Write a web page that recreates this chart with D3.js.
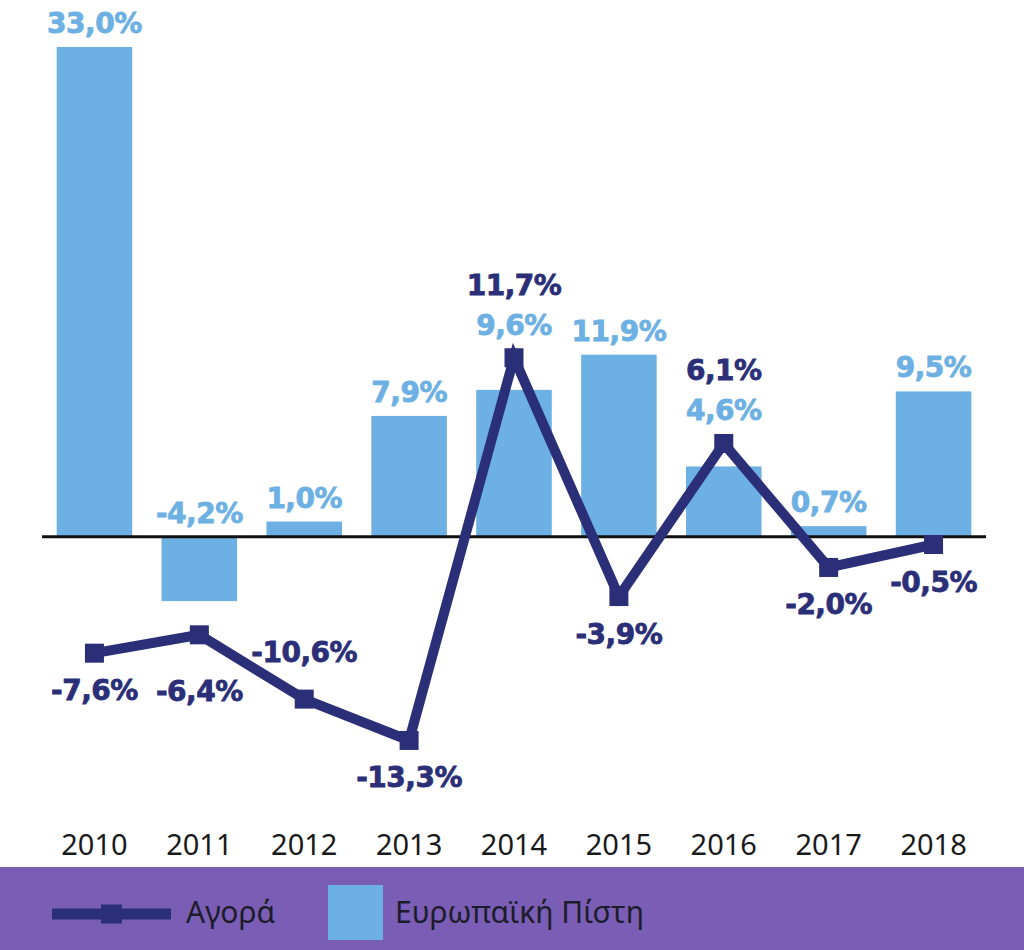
<!DOCTYPE html>
<html>
<head>
<meta charset="utf-8">
<script src="https://cdn.jsdelivr.net/npm/d3@7/dist/d3.min.js"></script>
<style>
  html, body { margin: 0; padding: 0; background: #ffffff; }
  svg { display: block; }
</style>
</head>
<body>
<script>
// ---- data ----
const years = ["2010", "2011", "2012", "2013", "2014", "2015", "2016", "2017", "2018"];
const pistiValues = [33.0, -4.2, 1.0, 7.9, 9.6, 11.9, 4.6, 0.7, 9.5];      // Ευρωπαϊκή Πίστη (bars)
const agoraValues = [-7.6, -6.4, -10.6, -13.3, 11.7, -3.9, 6.1, -2.0, -0.5]; // Αγορά (line)
const agoraLabelPlacement = ["below", "belowFar", "above", "below", "top", "below", "top", "below", "below"];
const seriesNames = ["Αγορά", "Ευρωπαϊκή Πίστη"];

const fmt = v => d3.format(".1f")(v).replace(".", ",").replace("−", "-") + "%";

// ---- styles ----
const W = 1024, H = 950;
const barColor = "#6db0e3";
const lineColor = "#2b2f78";
const bandColor = "#7a5db5";
const labelFont = "'DejaVu Sans', sans-serif";
const textFont = "'Noto Sans', sans-serif";

const svg = d3.select("body").append("svg").attr("width", W).attr("height", H);

const x = d3.scaleBand().domain(years).range([42, 986]).paddingInner(0.28).paddingOuter(0.14);
const y = d3.scaleLinear().domain([-20, 32]).range([843, 47]).clamp(true);
const cx = d => x(d) + x.bandwidth() / 2;

// bars
svg.append("g").selectAll("rect").data(years).join("rect")
  .attr("x", d => x(d))
  .attr("width", x.bandwidth())
  .attr("y", (d, i) => y(Math.max(0, pistiValues[i])))
  .attr("height", (d, i) => Math.abs(y(pistiValues[i]) - y(0)))
  .attr("fill", barColor);

// zero line
svg.append("line")
  .attr("x1", x.range()[0]).attr("x2", x.range()[1])
  .attr("y1", y(0)).attr("y2", y(0))
  .attr("stroke", "#111").attr("stroke-width", 3);

// line series
const pts = years.map((d, i) => [cx(d), y(agoraValues[i])]);
svg.append("path")
  .attr("d", d3.line()(pts))
  .attr("fill", "none")
  .attr("stroke", lineColor)
  .attr("stroke-width", 10)
  .attr("stroke-linejoin", "miter");

const ms = 19;
svg.append("g").selectAll("rect").data(pts).join("rect")
  .attr("x", d => d[0] - ms / 2).attr("y", d => d[1] - ms / 2)
  .attr("width", ms).attr("height", ms)
  .attr("fill", lineColor);

// bar labels
function barLabelY(i) {
  if (agoraLabelPlacement[i] === "top") return y(agoraValues[i]) - 23;
  return y(Math.max(0, pistiValues[i])) - 14;
}
svg.append("g").selectAll("text").data(years).join("text")
  .attr("x", d => cx(d))
  .attr("y", (d, i) => barLabelY(i))
  .attr("text-anchor", "middle")
  .attr("font-family", labelFont).attr("font-weight", 700).attr("font-size", 28)
  .attr("fill", barColor).attr("stroke", barColor).attr("stroke-width", 0.8)
  .attr("letter-spacing", -0.5)
  .text((d, i) => fmt(pistiValues[i]));

// line labels
function lineLabelY(i) {
  const p = agoraLabelPlacement[i];
  const yy = y(agoraValues[i]);
  if (p === "top") return barLabelY(i) - 40;
  if (p === "above") return yy - 37;
  if (p === "belowFar") return yy + 66;
  return yy + 47;
}
svg.append("g").selectAll("text").data(years).join("text")
  .attr("x", d => cx(d))
  .attr("y", (d, i) => lineLabelY(i))
  .attr("text-anchor", "middle")
  .attr("font-family", labelFont).attr("font-weight", 700).attr("font-size", 28)
  .attr("fill", lineColor).attr("stroke", lineColor).attr("stroke-width", 0.8)
  .attr("letter-spacing", -0.5)
  .text((d, i) => fmt(agoraValues[i]));

// x axis labels
const xAxis = d3.axisBottom(x).tickSize(0).tickPadding(0);
const gx = svg.append("g").attr("transform", "translate(0,834)").call(xAxis);
gx.select(".domain").remove();
gx.selectAll("text")
  .attr("font-family", textFont).attr("font-size", 29).attr("fill", "#1a1a1a")
  .attr("dy", "0.71em");

// legend band
svg.append("rect").attr("x", 0).attr("y", 867).attr("width", W).attr("height", H - 867).attr("fill", bandColor);
const lg = svg.append("g");
lg.append("line").attr("x1", 52).attr("x2", 171).attr("y1", 914).attr("y2", 914)
  .attr("stroke", lineColor).attr("stroke-width", 11);
lg.append("rect").attr("x", 101).attr("y", 904.5).attr("width", 21).attr("height", 19).attr("fill", lineColor);
lg.append("text").attr("x", 186).attr("y", 923)
  .attr("font-family", textFont).attr("font-size", 30).attr("fill", "#1c1c2a")
  .text(seriesNames[0]);
lg.append("rect").attr("x", 328).attr("y", 885).attr("width", 55).attr("height", 55).attr("fill", barColor);
lg.append("text").attr("x", 395).attr("y", 923)
  .attr("font-family", textFont).attr("font-size", 30).attr("fill", "#1c1c2a")
  .text(seriesNames[1]);
</script>
</body>
</html>
